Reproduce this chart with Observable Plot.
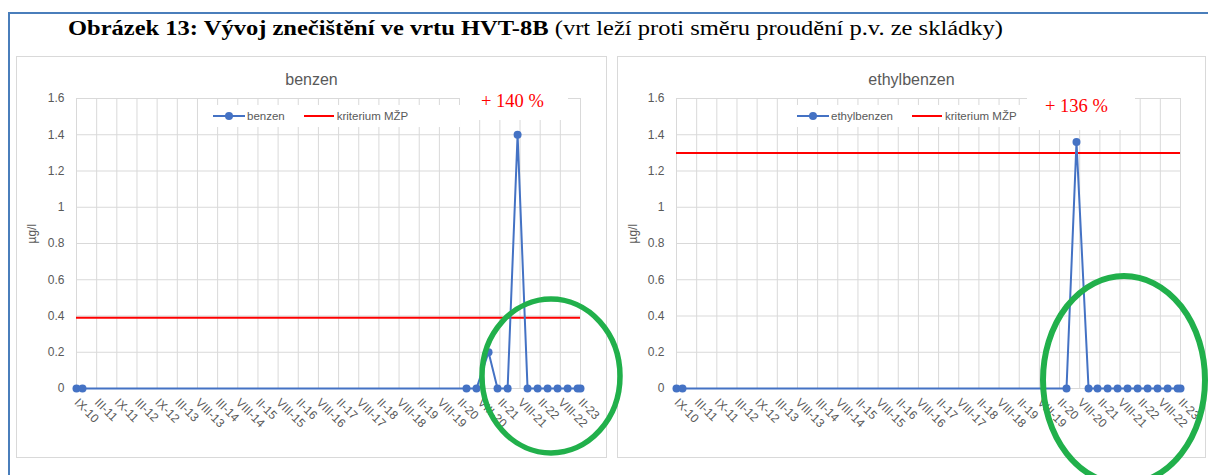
<!DOCTYPE html>
<html>
<head>
<meta charset="utf-8">
<script src="https://cdn.jsdelivr.net/npm/d3@7"></script>
<script src="https://cdn.jsdelivr.net/npm/@observablehq/plot@0.6"></script>
<style>
  html, body { margin: 0; padding: 0; background: #fff; }
  #page { position: relative; width: 1208px; height: 475px; overflow: hidden; background: #fff; font-family: "Liberation Sans", Arial, sans-serif; }
  .abs { position: absolute; }
  .frame { left: 8px; top: 12px; width: 1300px; height: 600px; border-left: 2px solid #4a7ebb; border-top: 2px solid #4a7ebb; }
  .title { left: 68px; top: 16px; font-family: "Liberation Serif", "Times New Roman", serif; font-size: 20.5px; line-height: 24px; color: #000; white-space: nowrap; transform-origin: 0 0; }
  .box { border: 1px solid #d9d9d9; box-sizing: border-box; pointer-events: none; }
  .ctitle { font-size: 16px; color: #595959; text-align: center; white-space: nowrap; }
  .legend { background: #fff; height: 22px; display: flex; align-items: center; font-size: 11.5px; color: #595959; white-space: nowrap; overflow: hidden; }
  .annot { background: #fff; color: #ff0000; font-family: "Liberation Serif", "Times New Roman", serif; font-size: 18.5px; white-space: nowrap; }
  svg.plot { position: absolute; }
</style>
</head>
<body>
<div id="page"></div>
<script>
// ---- data ----
const tickLabels = ["IX-10","III-11","IX-11","III-12","IX-12","III-13","VIII-13","III-14","VIII-14","II-15","VIII-15","II-16","VIII-16","II-17","VIII-17","II-18","VIII-18","II-19","VIII-19","II-20","VIII-20","II-21","VIII-21","II-22","VIII-22","II-23"];
const tickStartDate = "2010-09-04";
const tickStepDays = 182;
const sampleDates = ["2010-09-04","2010-10-28","2020-04-25","2020-07-24","2020-11-10","2021-01-30","2021-05-01","2021-07-30","2021-10-28","2022-01-27","2022-04-27","2022-07-26","2022-10-25","2023-01-23","2023-02-18"];
const benzen      = [0, 0, 0, 0,    0.2, 0, 0, 1.4, 0, 0, 0, 0, 0, 0, 0];
const ethylbenzen = [0, 0, 0, 1.36, 0,   0, 0, 0,   0, 0, 0, 0, 0, 0, 0];
const criterionBenzen = 0.39;
const criterionEthylbenzen = 1.3;
const yTicks = [0, 0.2, 0.4, 0.6, 0.8, 1, 1.2, 1.4, 1.6];
const yTickLabels = ["0","0.2","0.4","0.6","0.8","1","1.2","1.4","1.6"];
const chartTitles = ["benzen", "ethylbenzen"];
const seriesNames = ["benzen", "ethylbenzen"];
const criterionName = "kriterium MŽP";
const annotations = ["+ 140 %", "+ 136 %"];
const yLabel = "µg/l";
const titleBold = "Obrázek 13: Vývoj znečištění ve vrtu HVT-8B";
const titleRest = " (vrt leží proti směru proudění p.v. ze skládky)";

const BLUE = "#4472c4", RED = "#ff0000", GRID = "#d9d9d9", TXT = "#595959";
const page = document.getElementById("page");

function el(cls, style, html) {
  const d = document.createElement("div");
  d.className = "abs " + cls;
  Object.assign(d.style, style);
  if (html != null) d.innerHTML = html;
  page.appendChild(d);
  return d;
}

el("frame", {});
const t = el("title", {}, "<b>" + titleBold + "</b>" + titleRest);

const tickDates = tickLabels.map((_, i) => d3.utcDay.offset(new Date(tickStartDate), tickStepDays * i));
const labelByTime = new Map(tickDates.map((d, i) => [+d, tickLabels[i]]));
const yLabelByValue = new Map(yTicks.map((v, i) => [v, yTickLabels[i]]));

function chart(values, criterion, box) {
  const data = sampleDates.map((d, i) => ({date: new Date(d), value: values[i]}));
  const svg = Plot.plot({
    width: box.w, height: box.h,
    marginLeft: box.ml, marginRight: box.mr, marginTop: 42, marginBottom: 70,
    style: {background: "transparent", fontFamily: "Liberation Sans, Arial, sans-serif", color: TXT},
    x: {type: "utc", domain: [tickDates[0], tickDates[tickDates.length - 1]]},
    y: {domain: [0, 1.6]},
    marks: [
      Plot.gridX(tickDates, {stroke: GRID, strokeOpacity: 1, strokeWidth: 1}),
      Plot.gridY(yTicks, {stroke: GRID, strokeOpacity: 1, strokeWidth: 1}),
      Plot.ruleY([criterion], {stroke: RED, strokeWidth: 2}),
      Plot.line(data, {x: "date", y: "value", stroke: BLUE, strokeWidth: 2}),
      Plot.dot(data, {x: "date", y: "value", r: 4, fill: BLUE, stroke: null}),
      Plot.axisX(tickDates, {tickFormat: d => labelByTime.get(+d), tickRotate: 45, tickSize: 0, tickPadding: 12, fontSize: 12, fill: TXT, label: null}),
      Plot.axisY(yTicks, {tickFormat: v => yLabelByValue.get(v), tickSize: 0, tickPadding: 12, fontSize: 12, fill: TXT, label: null}),
      Plot.text([yLabel], {frameAnchor: "left", rotate: -90, dx: -(box.ml - 16), fontSize: 12, fill: TXT})
    ]
  });
  svg.classList.add("plot");
  svg.style.left = box.x + "px";
  svg.style.top = box.y + "px";
  page.appendChild(svg);
  el("box", {left: box.x + "px", top: box.y + "px", width: box.w + "px", height: box.h + "px"});
}

const boxes = [
  {x: 16, y: 56, w: 591, h: 402, ml: 60, mr: 27},
  {x: 617, y: 56, w: 589, h: 402, ml: 59, mr: 26}
];
chart(benzen, criterionBenzen, boxes[0]);
chart(ethylbenzen, criterionEthylbenzen, boxes[1]);

// chart titles
el("ctitle", {left: boxes[0].x + "px", width: boxes[0].w + "px", top: "71px"}, chartTitles[0]);
el("ctitle", {left: boxes[1].x + "px", width: boxes[1].w + "px", top: "71px"}, chartTitles[1]);

// legends
function legend(left, top, width, name) {
  const sym = `<svg width="32" height="10" style="margin-right:2px"><line x1="0" y1="5" x2="32" y2="5" stroke="${BLUE}" stroke-width="2"/><circle cx="16" cy="5" r="4" fill="${BLUE}"/></svg>`;
  const red = `<svg width="30" height="10" style="margin:0 3px 0 19px"><line x1="0" y1="5" x2="30" y2="5" stroke="${RED}" stroke-width="2"/></svg>`;
  el("legend", {left: left + "px", top: top + "px", width: width + "px"}, sym + "<span>" + name + "</span>" + red + "<span>" + criterionName + "</span>");
}
legend(213, 105, 247, seriesNames[0]);
legend(797, 105, 230, seriesNames[1]);

// annotations (white boxes with red text)
el("annot", {left: "460px", top: "86px", width: "108px", height: "34px", lineHeight: "30px", paddingLeft: "21px", boxSizing: "border-box"}, annotations[0]);
el("annot", {left: "1027px", top: "88px", width: "108px", height: "42px", lineHeight: "36px", paddingLeft: "18px", boxSizing: "border-box"}, annotations[1]);

// hand-drawn green ellipses
const ov = document.createElementNS("http://www.w3.org/2000/svg", "svg");
ov.setAttribute("width", 1208); ov.setAttribute("height", 475);
ov.style.position = "absolute"; ov.style.left = "0"; ov.style.top = "0";
ov.innerHTML = `<ellipse cx="551" cy="376" rx="69" ry="77" fill="none" stroke="#21b04b" stroke-width="5.5"/>
<ellipse cx="1124" cy="380" rx="81" ry="104" fill="none" stroke="#21b04b" stroke-width="6"/>`;
page.appendChild(ov);

// fit title width to reference (68 → 1003)
const w = t.getBoundingClientRect().width;
t.style.transform = `scaleX(${935 / w})`;
</script>
</body>
</html>
